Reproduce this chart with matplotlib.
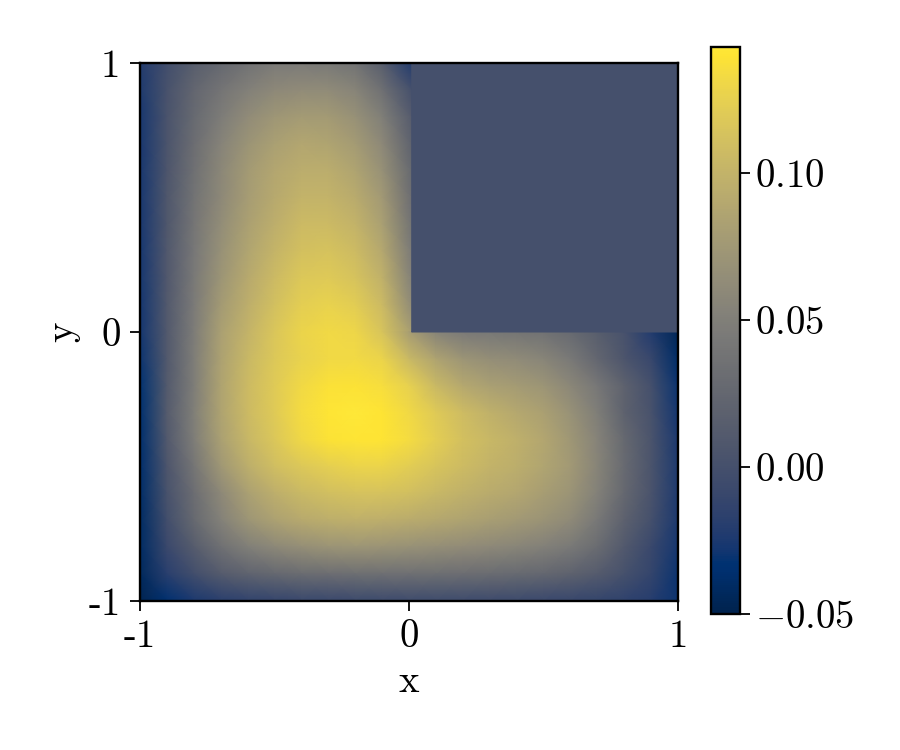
"""L-shaped domain solution field, drawn as a smooth heat map with a colour bar."""

import matplotlib

matplotlib.use("Agg")
import matplotlib.pyplot as plt
import numpy as np

plt.rcParams.update(
    {
        "font.family": ["cmr10", "DejaVu Serif"],
        "mathtext.fontset": "cm",
        "font.size": 28,
        "axes.linewidth": 1.7,
        "axes.formatter.use_mathtext": True,
        "xtick.major.size": 7,
        "ytick.major.size": 7,
        "xtick.major.width": 1.3,
        "ytick.major.width": 1.3,
    }
)

VMIN = -0.05
VMAX = 0.1429

# On a 0.1 grid.
X_LEFT = [-1.0, -0.9, -0.8, -0.7, -0.6, -0.5, -0.4, -0.3, -0.2, -0.1, 0.01]
Y_UPPER = [1.0, 0.9, 0.8, 0.7, 0.6, 0.5, 0.4, 0.3, 0.2, 0.1, 0.0]
X_FULL = [-1.0, -0.9, -0.8, -0.7, -0.6, -0.5, -0.4, -0.3, -0.2, -0.1, 0.0,
          0.1, 0.2, 0.3, 0.4, 0.5, 0.6, 0.7, 0.8, 0.9, 1.0]
Y_LOWER = [0.0, -0.1, -0.2, -0.3, -0.4, -0.5, -0.6, -0.7, -0.8, -0.9, -1.0]

# y from 1 down to 0, x from -1 to 0
U_UPPER = [
    [-.022, -.002, .015, .026, .036, .045, .046, .044, .038, .015, -.022],
    [-.024, .002, .024, .039, .051, .060, .063, .062, .055, .035, .000],
    [-.026, .004, .028, .047, .063, .073, .078, .077, .068, .050, .012],
    [-.026, .005, .032, .054, .071, .082, .088, .086, .078, .060, .020],
    [-.026, .006, .035, .058, .077, .088, .094, .094, .086, .068, .027],
    [-.026, .008, .038, .060, .079, .091, .100, .100, .093, .076, .032],
    [-.026, .008, .040, .064, .083, .096, .106, .106, .100, .082, .038],
    [-.027, .009, .042, .068, .087, .101, .112, .114, .107, .090, .045],
    [-.027, .009, .044, .072, .091, .106, .118, .120, .114, .098, .052],
    [-.028, .010, .045, .077, .096, .111, .123, .127, .122, .106, .062],
    [-.028, .010, .047, .082, .100, .116, .128, .132, .130, .115, .080],
]

# y from 0 down to -1, x from -1 to 1
U_LOWER = [
    [-.028, .010, .047, .082, .100, .116, .128, .132, .130, .115, .080,
     .055, .045, .043, .040, .036, .028, .015, .002, -.022, -.045],
    [-.030, .010, .048, .084, .104, .118, .127, .132, .133, .128, .105,
     .085, .072, .066, .062, .056, .044, .024, .006, -.010, -.038],
    [-.032, .011, .048, .085, .106, .120, .132, .138, .139, .136, .125,
     .105, .090, .082, .078, .072, .058, .042, .020, .000, -.030],
    [-.035, .012, .050, .085, .106, .120, .134, .141, .143, .140, .132,
     .120, .108, .098, .090, .083, .069, .049, .020, .002, -.028],
    [-.036, .010, .048, .082, .103, .117, .131, .139, .141, .140, .134,
     .123, .112, .104, .097, .088, .074, .054, .027, .005, -.025],
    [-.037, .006, .040, .074, .095, .109, .118, .124, .128, .128, .122,
     .115, .107, .100, .095, .087, .076, .055, .029, .005, -.024],
    [-.038, .002, .032, .060, .082, .096, .105, .110, .113, .113, .110,
     .104, .098, .093, .088, .080, .071, .052, .026, .004, -.024],
    [-.040, -.002, .027, .052, .072, .084, .091, .095, .097, .096, .093,
     .089, .085, .081, .076, .070, .061, .043, .019, .000, -.025],
    [-.040, -.008, .014, .035, .050, .059, .066, .070, .072, .070, .068,
     .066, .063, .060, .056, .051, .044, .030, .010, -.008, -.027],
    [-.043, -.019, -.002, .012, .021, .026, .030, .032, .033, .034, .034,
     .033, .032, .030, .028, .025, .020, .012, .001, -.012, -.030],
    [-.048, -.035, -.025, -.018, -.014, -.011, -.009, -.008, -.007, -.006, -.005,
     -.005, -.005, -.006, -.007, -.008, -.010, -.012, -.015, -.020, -.030],
]

# the cut-out quadrant is a flat zero
X_BLOCK = [0.01, 1.0]
Y_BLOCK = [0.0, 1.0]
U_BLOCK = [[0.0, 0.0], [0.0, 0.0]]


def main() -> None:
    fig = plt.figure(figsize=(9, 7.5), dpi=100)
    ax = fig.add_axes([140 / 900, 149 / 750, 538 / 900, 538 / 750])
    cax = fig.add_axes([711 / 900, 136 / 750, 29 / 900, 567 / 750])

    style = {"cmap": "cividis", "vmin": VMIN, "vmax": VMAX, "rasterized": True}
    mesh = ax.pcolormesh(X_LEFT, Y_UPPER, np.array(U_UPPER), shading="gouraud", **style)
    ax.pcolormesh(X_FULL, Y_LOWER, np.array(U_LOWER), shading="gouraud", **style)
    ax.pcolormesh(X_BLOCK, Y_BLOCK, np.array(U_BLOCK), shading="gouraud", **style)

    ax.set_xlim(-1, 1)
    ax.set_ylim(-1, 1)
    ax.set_xticks([-1, 0, 1], ["-1", "0", "1"])
    ax.set_yticks([-1, 0, 1], ["-1", "0", "1"])
    ax.tick_params(axis="x", pad=6)
    ax.tick_params(axis="y", pad=7)
    ax.set_xlabel("x", labelpad=7)
    ax.set_ylabel("y", labelpad=6)

    cbar = fig.colorbar(mesh, cax=cax)
    cbar.set_ticks([-0.05, 0.0, 0.05, 0.10], labels=["$-0.05$", "$0.00$", "$0.05$", "$0.10$"])
    cbar.ax.tick_params(pad=4)
    cbar.outline.set_linewidth(1.7)

    fig.savefig("out.png", dpi=100, facecolor="white")
    plt.close(fig)


if __name__ == "__main__":
    main()
